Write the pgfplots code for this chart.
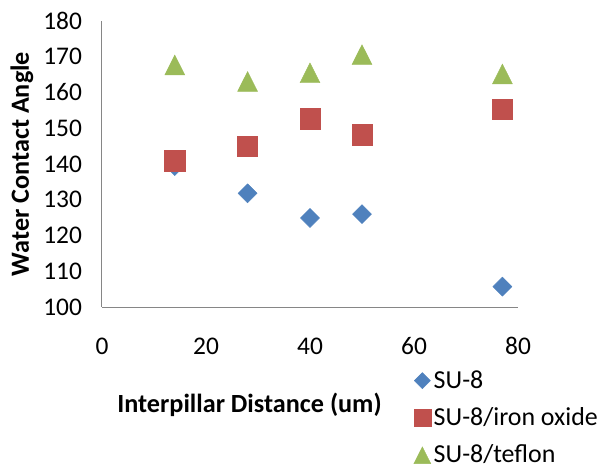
\documentclass[border=0pt]{standalone}
\usepackage{fontspec}
\setmainfont{Carlito}
\usepackage{pgfplots}
\pgfplotsset{compat=1.18}
\definecolor{cblue}{HTML}{4F81BD}
\definecolor{cred}{HTML}{C0504D}
\definecolor{cgreen}{HTML}{9BBB59}
\definecolor{caxis}{HTML}{868686}
\begin{document}
\begin{tikzpicture}
\useasboundingbox (-102bp,-162bp) rectangle (505bp,307bp);
\begin{axis}[
  at={(0bp,0bp)}, anchor=south west,
  scale only axis, width=416bp, height=286bp,
  xmin=0, xmax=80, ymin=100, ymax=180,
  xtick={0,20,40,60,80}, ytick={100,110,...,180},
  axis lines*=left,
  axis line style={draw=caxis, line width=1bp},
  tick style={draw=none},
  /pgf/number format/assume math mode=true,
  tick label style={font=\fontsize{25.5}{30}\selectfont},
  yticklabel style={xshift=-16.5bp},
  xticklabel style={yshift=-27bp},
  xlabel={Interpillar Distance (um)},
  xlabel style={font=\fontsize{26.3}{31}\selectfont\bfseries, at={(axis description cs:0.3546,-0.341)}, anchor=center},
  ylabel={Water Contact Angle},
  ylabel style={font=\fontsize{26.3}{31}\selectfont\bfseries, at={(axis description cs:-0.1923,0.5)}, anchor=center},
  legend cell align=left,
  legend image code/.code={\draw[#1, every mark/.append style={scale=0.85}] plot coordinates {(0bp,0bp)};},
  legend style={draw=none, fill=none, at={(axis description cs:0.749,-0.2238)}, anchor=north west,
    font=\fontsize{26}{31}\selectfont, row sep=18bp, inner sep=0bp,
    nodes={text height=17bp, text depth=2bp, inner xsep=2.8bp, inner ysep=0bp}},
]
\addplot[only marks, mark=diamond*, mark size=9.5bp, mark options={xscale=1.333, fill=cblue, draw=cblue}]
  coordinates {(14,139.4) (28,131.8) (40,124.9) (50,126.0) (77,105.7)};
\addlegendentry{SU-8}
\addplot[only marks, mark=square*, mark size=10.1bp, mark options={fill=cred, draw=cred}]
  coordinates {(14,140.9) (28,145.0) (40,152.7) (50,148.2) (77,155.4)};
\addlegendentry{SU-8/iron oxide}
\addplot[only marks, mark=triangle*, mark size=13.2bp, mark options={xscale=0.87, yshift=-3.3bp, fill=cgreen, draw=cgreen}]
  coordinates {(14,167.7) (28,163.1) (40,165.5) (50,170.6) (77,165.2)};
\addlegendentry{SU-8/teflon}
\end{axis}
\end{tikzpicture}
\end{document}
